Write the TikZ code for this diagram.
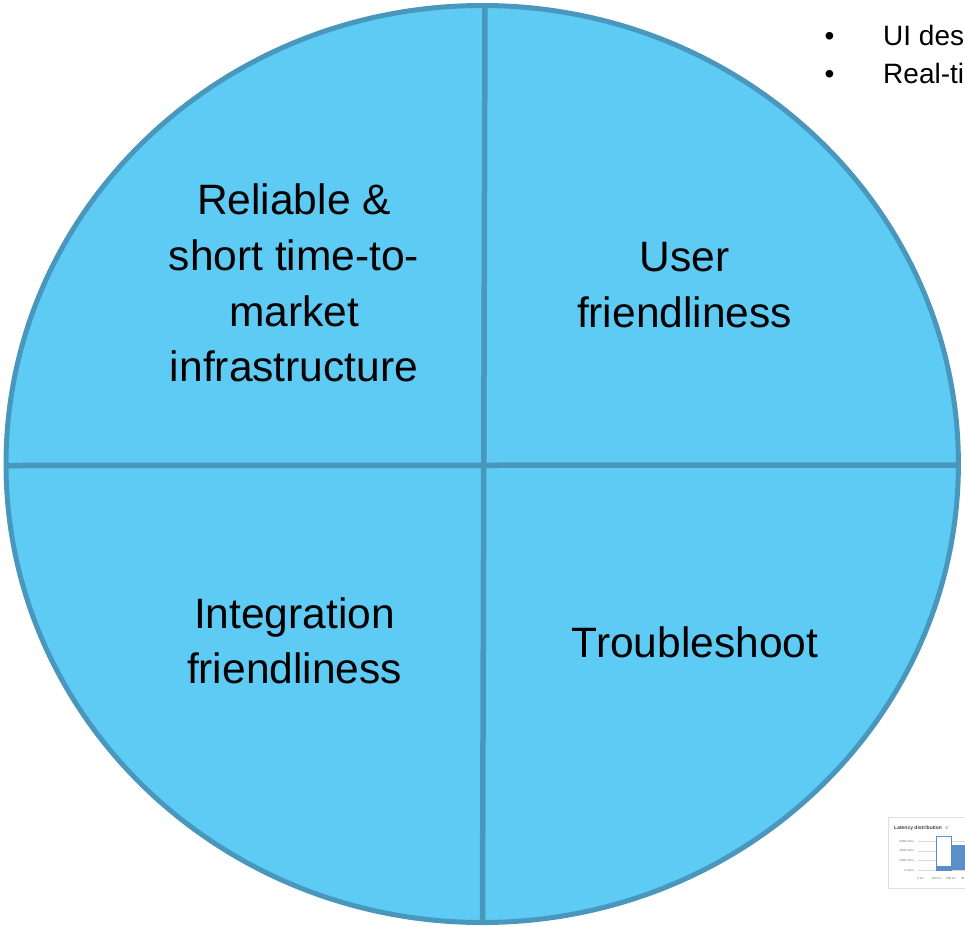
\documentclass[tikz,border=0pt]{standalone}
\usepackage{fontspec}
\setmainfont{Liberation Sans}
\definecolor{pfill}{HTML}{5DCBF3}
\definecolor{pline}{HTML}{4A97BE}
\definecolor{barblue}{HTML}{5B8FC7}
\begin{document}
\begin{tikzpicture}[x=1pt,y=-1pt,
  big/.style={inner sep=0pt, align=center, font=\fontsize{42.5}{55.7}\selectfont},
  bul/.style={inner sep=0pt, font=\fontsize{28}{36}\selectfont},
  tinylab/.style={inner sep=0pt, font=\fontsize{3}{3.5}\selectfont, text=black!55},
  divider/.style={draw=pline, line width=5.5pt},
  grid line/.style={draw=black!15, line width=0.3pt},
]
\useasboundingbox (0,0) rectangle (965,926);
\fill[white] (0,0) rectangle (965,926);
\clip (0,0) rectangle (965,926);
% pie
\fill[pfill] (482.2,464) ellipse [x radius=476.2pt, y radius=458.5pt];
\coordinate (vt) at (485,5.5);
\coordinate (vb) at (482.5,922.5);
\coordinate (hl) at (6,465.5);
\coordinate (hr) at (958.4,465);
\draw[divider] (vt) -- (vb);
\draw[divider] (hl) -- (hr);
\draw[pline, line width=5pt] (482.2,464) ellipse [x radius=476.2pt, y radius=458.5pt];
% labels
\node[big] (relia) at (294,283.2) {Reliable \&\\short time-to-\\market\\infrastructure};
\node[big] (user) at (684.5,285) {User\\friendliness};
\node[big] (integ) at (294.5,640.7) {Integration\\friendliness};
\node[big, anchor=base] (trouble) at (695,657) {Troubleshoot};
% bullets
\node[bul, anchor=base] (b1) at (829.5,45) {•};
\node[bul, anchor=base] (b2) at (829.5,83.3) {•};
\node[bul, anchor=base west] (t1) at (883,45) {UI des};
\node[bul, anchor=base west] (t2) at (883,83.3) {Real-ti};
% chart thumbnail
\draw[black!12, fill=white, line width=0.6pt] (888,817) rectangle (985,888);
\node[inner sep=0pt, anchor=base west, font=\fontsize{5}{6}\selectfont\bfseries, text=black!75] (ctitle) at (894,829.3) {Latency distribution};
\node[circle, draw=black!40, line width=0.3pt, inner sep=0pt, minimum size=3pt] (info) at (946.7,827.5) {};
\foreach \yy/\lab [count=\i] in {841/6000 trans,850.7/4000 trans,860.3/2000 trans,870/0 trans}{
  \node[tinylab, anchor=east] (yl\i) at (914,\yy) {\lab};
  \draw[grid line] (918,\yy) -- (985,\yy);
}
\draw[barblue, fill=white, line width=0.7pt] (936,836) rectangle (951.7,870);
\fill[barblue] (936,866) rectangle (951.7,870);
\fill[barblue] (951.7,845) rectangle (985,870);
\node[tinylab] (xl1) at (920.7,878.3) {0 ms};
\node[tinylab] (xl2) at (936.7,878.3) {100 ms};
\node[tinylab] (xl3) at (951,878.3) {200 ms};
\node[tinylab, anchor=west] (xl4) at (960.8,878.3) {30};
\end{tikzpicture}
\end{document}
